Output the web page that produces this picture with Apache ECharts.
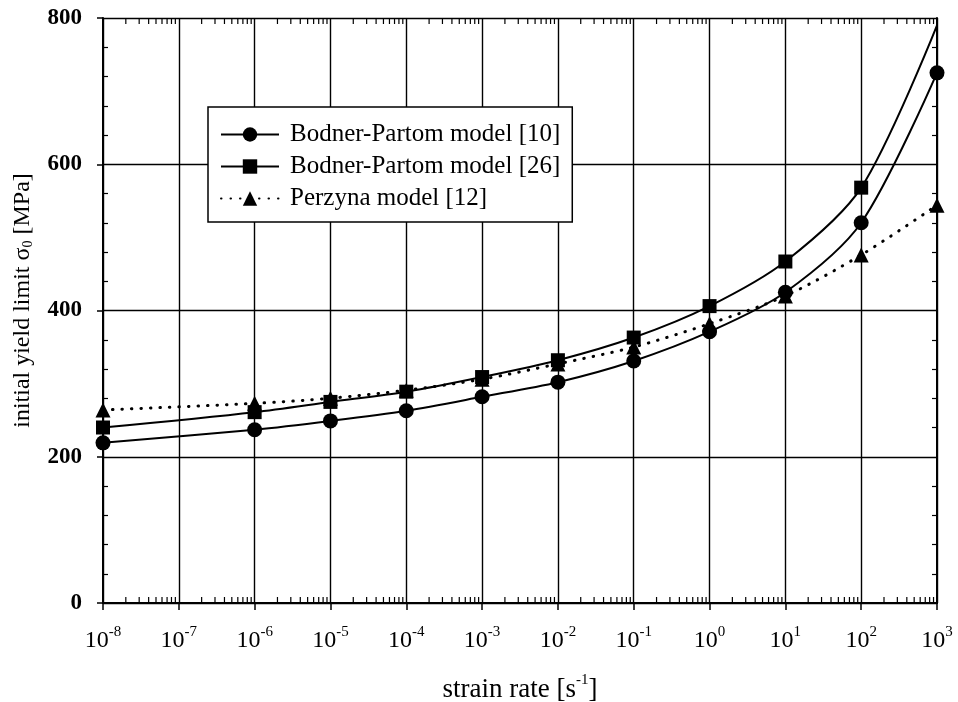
<!DOCTYPE html>
<html>
<head>
<meta charset="utf-8">
<script src="https://cdn.jsdelivr.net/npm/echarts@6/dist/echarts.min.js"></script>
<style>html,body{margin:0;padding:0;background:#fff;}#c{width:958px;height:702px;}</style>
</head>
<body>
<div id="c"></div>
<script>
// strain rates [1/s]
var strainRates = [1e-8, 1e-6, 1e-5, 1e-4, 1e-3, 1e-2, 1e-1, 1, 10, 100, 1000];
// initial yield limit [MPa]
var bodner10 = [219, 237, 249, 263, 282, 302, 331, 371, 425, 520, 725];
var bodner26 = [240, 261, 275, 289, 309, 332, 363, 406, 467, 568, 790];
var perzyna12 = [264, 273, 280, 291, 306, 327, 350, 382, 420, 476, 544];
var seriesNames = ['Bodner-Partom model [10]', 'Bodner-Partom model [26]', 'Perzyna model [12]'];
var yTicks = [0, 200, 400, 600, 800];
var xMinExp = -8, xMaxExp = 3;

var FONT = 'Liberation Serif';

function pairs(vals, noMarkerLast) {
  return strainRates.map(function (x, i) {
    if (noMarkerLast && i === strainRates.length - 1) {
      return { value: [x, vals[i]], symbol: 'none' };
    }
    return [x, vals[i]];
  });
}

// log minor tick values (2..9 per decade)
var minorX = [];
for (var e = xMinExp; e < xMaxExp; e++) {
  for (var k = 2; k <= 9; k++) minorX.push([k * Math.pow(10, e), 0]);
}

var chart = echarts.init(document.getElementById('c'), null, { renderer: 'canvas' });

var axisLine = { show: true, lineStyle: { color: '#000', width: 2 } };
var split = { show: true, lineStyle: { color: '#000', width: 1.4 } };

var option = {
  backgroundColor: '#fff',
  animation: false,
  grid: { left: 103, right: 21, top: 18, bottom: 99, containLabel: false, outerBoundsMode: 'none' },
  legend: {
    data: seriesNames,
    orient: 'vertical',
    left: 208,
    top: 107,
    backgroundColor: '#fff',
    borderColor: '#000',
    borderWidth: 1.5,
    borderRadius: 0,
    padding: [15, 12, 11, 12],
    itemWidth: 58,
    itemHeight: 18,
    itemGap: 7,
    textStyle: { fontFamily: FONT, fontSize: 25, lineHeight: 25, color: '#000', padding: [0, 0, 0, 6] },
    inactiveColor: '#000'
  },
  xAxis: [{
    type: 'log',
    logBase: 10,
    min: 1e-8,
    max: 1e3,
    interval: 1,
    position: 'bottom',
    axisLine: axisLine,
    axisTick: { show: true, inside: false, length: 7, lineStyle: { color: '#000', width: 1.5 } },
    splitLine: split,
    axisLabel: {
      margin: 22,
      formatter: function (v) {
        var ex = Math.round(Math.log(v) / Math.LN10);
        return '{b|10}{s|' + ex + '}';
      },
      rich: {
        b: { fontFamily: FONT, fontSize: 24, color: '#000', lineHeight: 28, verticalAlign: 'bottom' },
        s: { fontFamily: FONT, fontSize: 15, color: '#000', lineHeight: 15, verticalAlign: 'top' }
      }
    },
    name: '{b|strain rate [s}{s|-1}{b|]}',
    nameLocation: 'middle',
    nameGap: 70,
    nameTextStyle: {
      rich: {
        b: { fontFamily: FONT, fontSize: 27, color: '#000', lineHeight: 30, verticalAlign: 'bottom' },
        s: { fontFamily: FONT, fontSize: 15, color: '#000', lineHeight: 15, verticalAlign: 'top' }
      }
    }
  }, {
    type: 'log',
    logBase: 10,
    min: 1e-8,
    max: 1e3,
    interval: 1,
    position: 'top',
    axisLine: axisLine,
    axisTick: { show: false },
    axisLabel: { show: false },
    splitLine: { show: false }
  }],
  yAxis: [{
    type: 'value',
    min: 0,
    max: 800,
    interval: 200,
    position: 'left',
    axisLine: axisLine,
    axisTick: { show: true, inside: false, length: 6, lineStyle: { color: '#000', width: 1.5 } },
    splitLine: split,
    axisLabel: { margin: 21, fontFamily: FONT, fontSize: 23, color: '#000', fontWeight: 'bold' },
    name: '{b|initial yield limit σ}{s|0}{b| [MPa]}',
    nameLocation: 'middle',
    nameRotate: 90,
    nameGap: 68,
    nameTextStyle: {
      padding: [0, 0, 0, 20],
      rich: {
        b: { fontFamily: FONT, fontSize: 24, color: '#000', lineHeight: 24, verticalAlign: 'top' },
        s: { fontFamily: FONT, fontSize: 14, color: '#000', lineHeight: 14, verticalAlign: 'bottom' }
      }
    }
  }, {
    type: 'value', min: 0, max: 800, interval: 200, position: 'left',
    axisLine: { show: false }, axisLabel: { show: false }, splitLine: { show: false },
    axisTick: { show: false, inside: true },
    minorTick: { show: true, splitNumber: 5, length: 5, lineStyle: { color: '#000', width: 1.2 } }
  }, {
    type: 'value', min: 0, max: 800, interval: 200, position: 'right',
    axisLine: axisLine, axisLabel: { show: false }, splitLine: { show: false },
    axisTick: { show: false, inside: true },
    minorTick: { show: true, splitNumber: 5, length: 5, lineStyle: { color: '#000', width: 1.2 } }
  }],
  series: [{
    name: seriesNames[0],
    type: 'line',
    data: pairs(bodner10, false),
    symbol: 'circle',
    symbolSize: 15,
    smooth: 0.3,
    color: '#000',
    lineStyle: { color: '#000', width: 2 },
    itemStyle: { color: '#000' },
    z: 5
  }, {
    name: seriesNames[1],
    type: 'line',
    data: pairs(bodner26, true),
    symbol: 'rect',
    symbolSize: 14,
    smooth: 0.3,
    color: '#000',
    lineStyle: { color: '#000', width: 2 },
    itemStyle: { color: '#000' },
    z: 5
  }, {
    name: seriesNames[2],
    type: 'line',
    data: pairs(perzyna12, false),
    symbol: 'triangle',
    symbolSize: 15,
    smooth: 0.3,
    color: '#000',
    lineStyle: { color: '#000', width: 3, type: [0.5, 9], cap: 'round' },
    itemStyle: { color: '#000' },
    z: 4
  }, {
    type: 'custom',
    silent: true,
    xAxisIndex: 0,
    yAxisIndex: 0,
    data: minorX,
    encode: { x: 0, y: 1 },
    clip: false,
    renderItem: function (params, api) {
      var v = api.value(0);
      var pb = api.coord([v, 0]);
      var pt = api.coord([v, 800]);
      return {
        type: 'group',
        children: [
          { type: 'line', shape: { x1: pb[0], y1: pb[1], x2: pb[0], y2: pb[1] - 6 }, style: { stroke: '#000', lineWidth: 1.2 } },
          { type: 'line', shape: { x1: pt[0], y1: pt[1], x2: pt[0], y2: pt[1] + 6 }, style: { stroke: '#000', lineWidth: 1.2 } }
        ]
      };
    },
    z: 3
  }]
};
chart.setOption(option);
</script>
</body>
</html>
